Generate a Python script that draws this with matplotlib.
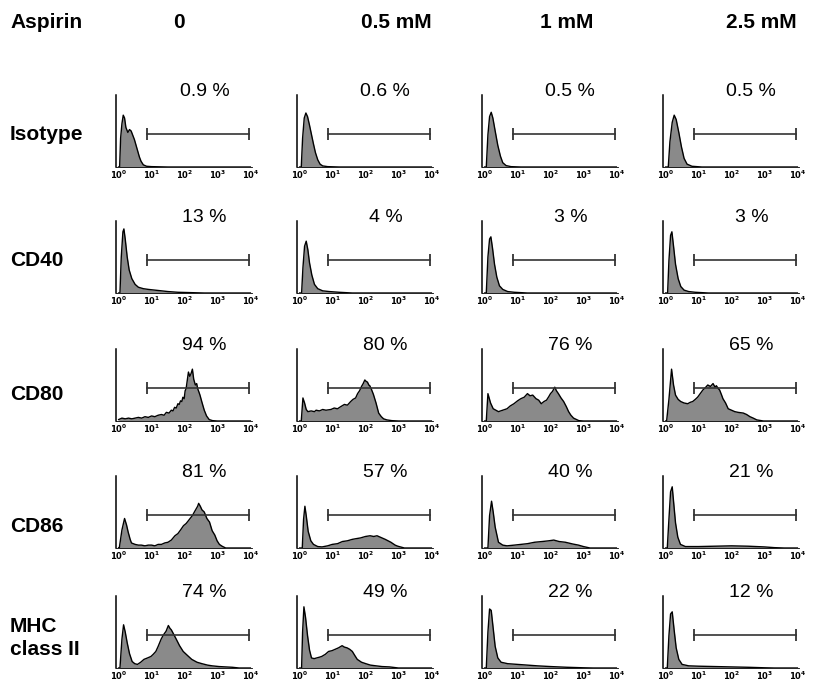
import matplotlib
matplotlib.use("Agg")
import matplotlib.pyplot as plt

plt.rcParams['font.family'] = ['Liberation Sans', 'DejaVu Sans']

# column / row headings
doses = ["0", "0.5 mM", "1 mM", "2.5 mM"]
markers = ["Isotype", "CD40", "CD80", "CD86", "MHC\nclass II"]
percents = [
    ["0.9 %", "0.6 %", "0.5 %", "0.5 %"],
    ["13 %", "4 %", "3 %", "3 %"],
    ["94 %", "80 %", "76 %", "65 %"],
    ["81 %", "57 %", "40 %", "21 %"],
    ["74 %", "49 %", "22 %", "12 %"],
]

# histograms: x = log10 fluorescence, y = % of panel height
iso_0_x = [0.0, 0.03, 0.06, 0.1, 0.14, 0.18, 0.22, 0.28, 0.33, 0.38, 0.43, 0.48, 0.53, 0.58, 0.63, 0.68, 0.75, 0.85, 1.0, 1.5, 4.0]
iso_0_y = [0, 0, 40, 60, 72, 68, 55, 48, 52, 50, 44, 38, 30, 22, 14, 8, 3, 1, 0.5, 0, 0]
iso_1_x = [0.0, 0.05, 0.09, 0.14, 0.19, 0.24, 0.3, 0.36, 0.42, 0.48, 0.55, 0.62, 0.7, 0.85, 1.2, 4.0]
iso_1_y = [0, 0, 40, 68, 75, 70, 58, 45, 32, 20, 10, 4, 1.5, 0.5, 0, 0]
iso_2_x = [0.0, 0.05, 0.1, 0.15, 0.2, 0.25, 0.32, 0.4, 0.48, 0.55, 0.65, 0.8, 1.1, 4.0]
iso_2_y = [0, 0, 45, 70, 76, 68, 50, 30, 15, 6, 2, 0.5, 0, 0]
iso_3_x = [0.0, 0.08, 0.13, 0.2, 0.26, 0.32, 0.4, 0.48, 0.56, 0.65, 0.8, 1.1, 4.0]
iso_3_y = [0, 0, 35, 62, 72, 66, 48, 28, 12, 4, 1, 0, 0]

cd40_0_x = [0.0, 0.04, 0.08, 0.13, 0.16, 0.2, 0.26, 0.32, 0.4, 0.5, 0.6, 0.75, 0.9, 1.1, 1.3, 1.5, 1.8, 2.2, 2.6, 4.0]
cd40_0_y = [0, 0, 50, 85, 89, 75, 50, 32, 20, 12, 8, 6, 5, 4, 3, 2, 1, 0.5, 0, 0]
cd40_1_x = [0.0, 0.06, 0.1, 0.15, 0.2, 0.25, 0.3, 0.37, 0.45, 0.55, 0.7, 0.9, 1.2, 1.6, 4.0]
cd40_1_y = [0, 0, 35, 65, 72, 60, 42, 25, 12, 6, 3, 2, 1, 0, 0]
cd40_2_x = [0.0, 0.05, 0.1, 0.15, 0.19, 0.24, 0.3, 0.37, 0.45, 0.55, 0.7, 0.9, 1.3, 4.0]
cd40_2_y = [0, 0, 50, 75, 78, 62, 40, 22, 10, 5, 2, 1, 0, 0]
cd40_3_x = [0.0, 0.06, 0.1, 0.15, 0.19, 0.24, 0.3, 0.38, 0.46, 0.56, 0.7, 0.9, 1.3, 4.0]
cd40_3_y = [0, 0, 45, 80, 85, 65, 40, 20, 9, 4, 2, 1, 0, 0]

cd80_0_x = [0.0, 0.1, 0.2, 0.3, 0.4, 0.5, 0.6, 0.7, 0.8, 0.9, 1.0, 1.1, 1.2, 1.3, 1.38, 1.45, 1.53, 1.6, 1.65, 1.7, 1.75, 1.8, 1.84, 1.88, 1.92, 1.95, 1.99, 2.02, 2.05, 2.08, 2.12, 2.16, 2.2, 2.24, 2.28, 2.33, 2.37, 2.4, 2.44, 2.47, 2.53, 2.6, 2.67, 2.75, 2.85, 3.0, 4.0]
cd80_0_y = [2, 4, 3, 4, 3, 4, 5, 4, 6, 5, 7, 6, 8, 9, 8, 12, 11, 15, 14, 19, 18, 24, 23, 28, 27, 33, 31, 42, 45, 55, 68, 62, 66, 72, 58, 50, 52, 45, 40, 36, 26, 15, 7, 2, 0.5, 0, 0]
cd80_1_x = [0.0, 0.05, 0.1, 0.15, 0.2, 0.25, 0.35, 0.45, 0.5, 0.6, 0.7, 0.8, 0.95, 1.05, 1.15, 1.25, 1.36, 1.45, 1.55, 1.62, 1.7, 1.76, 1.82, 1.88, 1.93, 1.98, 2.02, 2.06, 2.1, 2.13, 2.18, 2.24, 2.32, 2.4, 2.48, 2.55, 2.65, 2.8, 3.0, 4.0]
cd80_1_y = [0, 0, 32, 25, 16, 13, 14, 13, 15, 14, 16, 15, 16, 18, 17, 20, 23, 22, 27, 30, 32, 38, 42, 48, 52, 57, 55, 54, 50, 49, 44, 37, 25, 11, 6, 3, 1.5, 0.5, 0, 0]
cd80_2_x = [0.0, 0.05, 0.1, 0.18, 0.26, 0.34, 0.42, 0.55, 0.68, 0.78, 0.89, 1.0, 1.1, 1.2, 1.3, 1.38, 1.46, 1.56, 1.64, 1.72, 1.8, 1.88, 1.95, 2.0, 2.06, 2.13, 2.18, 2.24, 2.32, 2.4, 2.48, 2.55, 2.62, 2.7, 2.86, 3.0, 4.0]
cd80_2_y = [0, 0, 38, 25, 17, 15, 13, 15, 17, 21, 24, 28, 31, 33, 38, 35, 36, 31, 29, 24, 27, 29, 34, 38, 41, 47, 42, 38, 32, 27, 20, 13, 8, 4, 0.5, 0, 0]
cd80_3_x = [0.0, 0.03, 0.1, 0.18, 0.24, 0.3, 0.38, 0.46, 0.56, 0.67, 0.75, 0.82, 0.9, 0.97, 1.05, 1.13, 1.2, 1.28, 1.36, 1.44, 1.5, 1.54, 1.6, 1.64, 1.7, 1.74, 1.82, 1.9, 2.0, 2.1, 2.2, 2.36, 2.46, 2.56, 2.66, 2.77, 2.97, 4.0]
cd80_3_y = [0, 0, 30, 72, 50, 36, 30, 27, 25, 24, 26, 27, 30, 33, 38, 43, 46, 50, 48, 52, 47, 49, 45, 43, 36, 31, 25, 17, 15, 13, 12, 11, 9, 6, 4, 1.5, 0, 0]

cd86_0_x = [0.0, 0.02, 0.1, 0.18, 0.24, 0.29, 0.35, 0.39, 0.5, 0.6, 0.69, 0.8, 0.9, 1.0, 1.1, 1.2, 1.3, 1.4, 1.5, 1.6, 1.71, 1.8, 1.88, 1.97, 2.05, 2.12, 2.17, 2.24, 2.3, 2.35, 2.4, 2.43, 2.48, 2.53, 2.6, 2.68, 2.76, 2.84, 2.92, 2.99, 3.06, 3.14, 3.25, 4.0]
cd86_0_y = [0, 0, 25, 41, 32, 22, 12, 7, 5, 4, 4, 3, 4, 4, 3, 5, 5, 7, 8, 11, 17, 20, 25, 31, 34, 38, 41, 45, 50, 54, 58, 62, 58, 53, 50, 41, 36, 24, 18, 10, 5, 2.5, 0, 0]
cd86_1_x = [0.0, 0.08, 0.12, 0.16, 0.2, 0.26, 0.34, 0.42, 0.55, 0.68, 0.85, 0.99, 1.15, 1.3, 1.45, 1.6, 1.72, 1.85, 2.0, 2.14, 2.25, 2.35, 2.45, 2.6, 2.77, 2.9, 2.98, 3.1, 3.18, 4.0]
cd86_1_y = [0, 0, 40, 58, 45, 23, 10, 5, 2, 1.5, 3, 5, 6, 9, 10, 12, 13, 14, 16, 17, 16, 17, 15, 12, 8, 4, 2.5, 1, 0, 0]
cd86_2_x = [0.0, 0.1, 0.15, 0.21, 0.26, 0.32, 0.42, 0.55, 0.68, 0.9, 1.1, 1.3, 1.52, 1.75, 1.95, 2.1, 2.26, 2.45, 2.68, 2.85, 3.0, 3.2, 4.0]
cd86_2_y = [0, 0, 45, 65, 50, 29, 8, 4, 3, 4, 5, 6, 8, 9, 10, 11, 9, 8, 5.5, 4, 2, 0, 0]
cd86_3_x = [0.0, 0.05, 0.1, 0.15, 0.2, 0.25, 0.3, 0.37, 0.45, 0.6, 1.0, 1.5, 2.0, 2.5, 3.0, 3.3, 3.6, 4.0]
cd86_3_y = [0, 0, 40, 78, 85, 60, 35, 15, 5, 2, 2, 2.5, 3, 2.5, 1.5, 0.5, 0, 0]

mhc_0_x = [0.0, 0.04, 0.1, 0.15, 0.2, 0.26, 0.33, 0.41, 0.49, 0.57, 0.67, 0.77, 0.88, 0.98, 1.05, 1.13, 1.2, 1.29, 1.36, 1.44, 1.51, 1.56, 1.6, 1.67, 1.75, 1.85, 1.96, 2.1, 2.22, 2.38, 2.53, 2.7, 2.84, 3.05, 3.25, 3.45, 3.66, 4.0]
mhc_0_y = [0, 0, 40, 60, 50, 35, 20, 9, 6, 5, 8, 12, 14, 16, 19, 23, 30, 40, 46, 51, 59, 55, 53, 47, 40, 31, 23, 17, 12, 8, 6, 4, 3, 2, 1.5, 1, 0, 0]
mhc_1_x = [0.0, 0.06, 0.09, 0.13, 0.18, 0.24, 0.3, 0.36, 0.44, 0.52, 0.6, 0.67, 0.78, 0.88, 0.98, 1.08, 1.18, 1.29, 1.36, 1.44, 1.52, 1.6, 1.68, 1.75, 1.88, 2.01, 2.15, 2.32, 2.5, 2.73, 3.0, 4.0]
mhc_1_y = [0, 0, 50, 85, 70, 45, 25, 14, 13, 14, 15, 16, 19, 23, 24, 26, 28, 31, 29, 28, 26, 23, 17, 12, 8, 6, 4, 3, 2, 1.5, 0, 0]
mhc_2_x = [0.0, 0.05, 0.1, 0.15, 0.2, 0.26, 0.32, 0.4, 0.5, 0.7, 1.0, 1.3, 1.6, 2.0, 2.5, 3.0, 3.3, 4.0]
mhc_2_y = [0, 0, 50, 82, 80, 55, 30, 14, 8, 6, 5, 4, 3, 2, 1, 0.3, 0, 0]
mhc_3_x = [0.0, 0.05, 0.1, 0.15, 0.2, 0.26, 0.32, 0.4, 0.5, 0.7, 1.0, 1.5, 2.0, 2.5, 3.0, 3.3, 4.0]
mhc_3_y = [0, 0, 45, 75, 78, 52, 28, 12, 5, 3, 2.5, 2, 1.5, 1, 0.3, 0, 0]

hist_x = [
    [iso_0_x, iso_1_x, iso_2_x, iso_3_x],
    [cd40_0_x, cd40_1_x, cd40_2_x, cd40_3_x],
    [cd80_0_x, cd80_1_x, cd80_2_x, cd80_3_x],
    [cd86_0_x, cd86_1_x, cd86_2_x, cd86_3_x],
    [mhc_0_x, mhc_1_x, mhc_2_x, mhc_3_x],
]
hist_y = [
    [iso_0_y, iso_1_y, iso_2_y, iso_3_y],
    [cd40_0_y, cd40_1_y, cd40_2_y, cd40_3_y],
    [cd80_0_y, cd80_1_y, cd80_2_y, cd80_3_y],
    [cd86_0_y, cd86_1_y, cd86_2_y, cd86_3_y],
    [mhc_0_y, mhc_1_y, mhc_2_y, mhc_3_y],
]

# marker gate (log10 units)
gate_lo, gate_hi = 0.85, 3.95
decades = [0, 1, 2, 3, 4]

W, H = 813, 684
fig = plt.figure(figsize=(W / 100, H / 100), dpi=100)

col_left = [116, 297, 482, 663]
row_base = [167, 293, 421, 548, 668]
label_off = [33, 32, 26, 22, 30]
ax_w, ax_h = 136, 72

for r in range(5):
    for c in range(4):
        ax = fig.add_axes([col_left[c] / W, 1 - row_base[r] / H, ax_w / W, ax_h / H])
        x, y = hist_x[r][c], hist_y[r][c]
        ax.fill_between(x, y, 0, color='#8a8a8a', lw=0)
        ax.plot(x, y, color='black', lw=1.0)
        ax.plot([gate_lo, gate_hi], [46, 46], color='#333333', lw=1.2,
                marker='|', markersize=9, markeredgewidth=1.3)
        ax.set_xlim(-0.08, 4.05)
        ax.set_ylim(0, 100)
        for s in ['top', 'right']:
            ax.spines[s].set_visible(False)
        ax.spines['left'].set_linewidth(1.1)
        ax.spines['bottom'].set_linewidth(0.6)
        ax.set_yticks([])
        ax.set_xticks(decades)
        ax.set_xticklabels([f"$\\mathbf{{10^{{{d}}}}}$" for d in decades], fontsize=6)
        ax.tick_params(axis='x', length=0, pad=1.0)
        ax.text(0.65, 1.05, percents[r][c], transform=ax.transAxes,
                ha='center', va='center', fontsize=14)

# headings
fig.text(10 / W, 1 - 22 / H, "Aspirin", fontsize=15, fontweight='bold', va='center')
head_x = [179, 396, 567, 761]
for c in range(4):
    fig.text(head_x[c] / W, 1 - 22 / H, doses[c], fontsize=15, fontweight='bold',
             ha='center', va='center')

for r in range(5):
    yc = row_base[r] - label_off[r]
    fig.text(10 / W, 1 - yc / H, markers[r], fontsize=15, fontweight='bold',
             va='center', linespacing=1.3)

fig.savefig("out.png", dpi=100)
